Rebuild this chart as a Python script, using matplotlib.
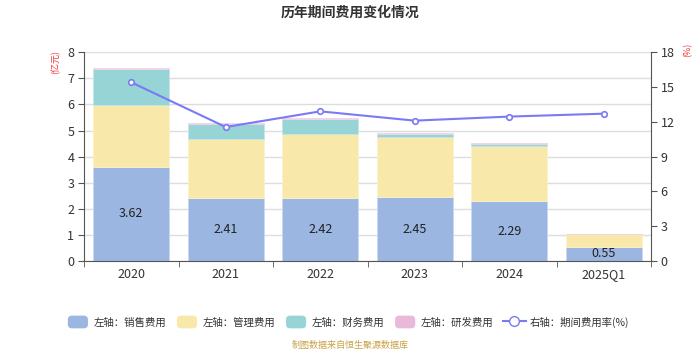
import numpy as np
import matplotlib.pyplot as plt
from matplotlib.lines import Line2D
from matplotlib.patches import Patch, FancyBboxPatch
from matplotlib.legend_handler import HandlerPatch

plt.rcParams['font.family'] = ['Noto Sans CJK SC', 'DejaVu Sans']

years = ['2020', '2021', '2022', '2023', '2024', '2025Q1']
sales = [3.62, 2.41, 2.42, 2.45, 2.29, 0.55]
admin = [2.36, 2.26, 2.45, 2.30, 2.12, 0.48]
finance = [1.38, 0.56, 0.57, 0.12, 0.07, 0.01]
rnd = [0.05, 0.04, 0.04, 0.05, 0.06, 0.005]
rate = [15.4, 11.55, 12.9, 12.1, 12.45, 12.7]

c_sales = '#9bb6e1'
c_admin = '#f8e8a9'
c_fin = '#97d4d5'
c_rnd = '#e9b9dc'
c_line = '#7a7af6'


class RoundBox(HandlerPatch):
    # rounded legend swatch
    def create_artists(self, legend, orig_handle, xdescent, ydescent, width, height, fontsize, trans):
        p = FancyBboxPatch((-xdescent + 1, -ydescent), width - 2, height,
                           boxstyle='round,pad=0,rounding_size=3',
                           facecolor=orig_handle.get_facecolor(), edgecolor='none', transform=trans)
        return [p]


fig = plt.figure(figsize=(7, 3.5), dpi=100)
ax = fig.add_axes([0.12, 0.254, 0.81, 0.597])
x = np.arange(len(years))
w = 0.8

b1 = np.array(sales)
b2 = b1 + np.array(admin)
b3 = b2 + np.array(finance)
ax.bar(x, sales, w, color=c_sales, edgecolor='#c8d8f0', linewidth=0.6, zorder=2)
ax.bar(x, admin, w, bottom=b1, color=c_admin, edgecolor='#fbf2cc', linewidth=0.6, zorder=2)
ax.bar(x, finance, w, bottom=b2, color=c_fin, edgecolor='#c4e6e6', linewidth=0.6, zorder=2)
ax.bar(x, rnd, w, bottom=b3, color=c_rnd, edgecolor='#f0d4ea', linewidth=0.6, zorder=2)

for xi, v in zip(x, sales):
    ax.text(xi, v / 2, f'{v:.2f}', ha='center', va='center', fontsize=9, color='#222222', zorder=5)

ax.set_xlim(-0.5, len(years) - 0.5)
ax.set_ylim(0, 8)
ax.set_yticks(range(0, 9))
ax.set_xticks(x)
ax.set_xticklabels(years)
ax.set_xticks(np.arange(-0.5, len(years)), minor=True)
ax.tick_params(axis='x', which='major', length=0, labelsize=9, colors='#333333', pad=5)
ax.tick_params(axis='x', which='minor', length=4, color='#555555')
ax.tick_params(axis='y', length=4, labelsize=9, colors='#333333', pad=3)
ax.tick_params(axis='y', color='#555555')
ax.grid(axis='y', color='#dddddd', linewidth=1, zorder=0)
for s in ['top', 'right']:
    ax.spines[s].set_visible(False)
for s in ['left', 'bottom']:
    ax.spines[s].set_color('#555555')

ax2 = ax.twinx()
ax2.plot(x, rate, color=c_line, lw=1.5, marker='o', ms=4, mfc='white', mec=c_line, mew=1.2, zorder=6)
ax2.set_ylim(0, 18)
ax2.set_yticks(range(0, 19, 3))
ax2.tick_params(axis='y', length=4, labelsize=9, colors='#333333', color='#555555', pad=3)
for s in ['top', 'left', 'bottom']:
    ax2.spines[s].set_visible(False)
ax2.spines['right'].set_color('#555555')

fig.text(0.5, 0.965, '历年期间费用变化情况', ha='center', va='center', fontsize=10, fontweight='bold', color='#333333')
fig.text(0.08, 0.823, '(亿元)', ha='center', va='center', rotation=90, fontsize=6.5, color='#ee3333')
fig.text(0.983, 0.857, '(%)', ha='center', va='center', rotation=90, fontsize=6.5, color='#ee3333')

handles = [
    Patch(facecolor=c_sales, edgecolor='none', label='左轴：销售费用'),
    Patch(facecolor=c_admin, edgecolor='none', label='左轴：管理费用'),
    Patch(facecolor=c_fin, edgecolor='none', label='左轴：财务费用'),
    Patch(facecolor=c_rnd, edgecolor='none', label='左轴：研发费用'),
    Line2D([0], [0], color=c_line, lw=1.5, marker='o', ms=7, mfc='white', mec=c_line, label='右轴：期间费用率(%)'),
]
fig.legend(handles=handles, loc='center', bbox_to_anchor=(0.497, 0.08), ncol=5, frameon=False,
           fontsize=7.5, handlelength=2.2, handleheight=1.5, columnspacing=0.9, handletextpad=0.4,
           labelcolor='#333333', handler_map={Patch: RoundBox()})

fig.text(0.5, 0.014, '制图数据来自恒生聚源数据库', ha='center', va='center', fontsize=6.5, color='#c9a046')

fig.savefig('out.png', dpi=100)
